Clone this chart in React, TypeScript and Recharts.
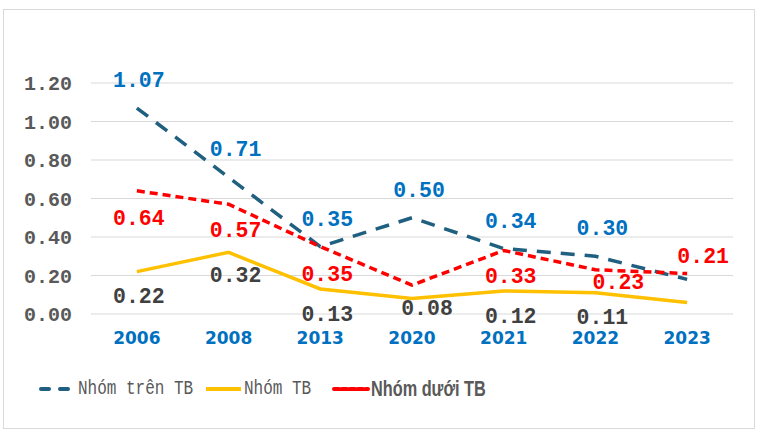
import React from 'react'
import { LineChart, Line, XAxis, YAxis, CartesianGrid, Legend, LabelList } from 'recharts'

const years = ['2006', '2008', '2013', '2020', '2021', '2022', '2023']
const aboveAvg = [1.07, 0.71, 0.35, 0.5, 0.34, 0.3, 0.18]
const average = [0.22, 0.32, 0.13, 0.08, 0.12, 0.11, 0.06]
const belowAvg = [0.64, 0.57, 0.35, 0.15, 0.33, 0.23, 0.21]
const yTicks = [0, 0.2, 0.4, 0.6, 0.8, 1.0, 1.2]

const data = years.map((year, i) => ({
  year,
  above: aboveAvg[i],
  avg: average[i],
  below: belowAvg[i],
}))

// label placement per series: [dx, dy] or null (hidden)
const aboveLabelPos: ([number, number] | null)[] = [[2, -27], [7, -27], [7, -27], [7, -27], [7, -27], [7, -27], null]
const avgLabelPos: ([number, number] | null)[] = [[2, 25], [7, 24], [7, 26], [15, 10], [7, 26], [7, 25], null]
const belowLabelPos: ([number, number] | null)[] = [[2, 28], [7, 27], [7, 28], null, [7, 27], [23, 13], [16, -17]]

const BLUE = '#1F5F80'
const YELLOW = '#FFC000'
const RED = '#FF0000'
const MONO = '"Liberation Mono", "Courier New", monospace'

function makeLabel(pos: ([number, number] | null)[], color: string) {
  return (props: any) => {
    const { x, y, value, index } = props
    const p = pos[index]
    if (!p) return null
    return (
      <text
        x={x + p[0]}
        y={y + p[1]}
        textAnchor="middle"
        dominantBaseline="central"
        fill={color}
        fontFamily={MONO}
        fontWeight="bold"
        fontSize={21.5}
      >
        {Number(value).toFixed(2)}
      </text>
    )
  }
}

function ChartLegend() {
  const text = {
    position: 'absolute' as const,
    top: 0,
    lineHeight: '50px',
    color: '#595959',
    whiteSpace: 'nowrap' as const,
    transformOrigin: 'left center',
  }
  return (
    <div style={{ position: 'relative', width: 762, height: 50 }}>
      <svg style={{ position: 'absolute', left: 0, top: 0 }} width={400} height={50}>
        <line x1={41} y1={25} x2={68} y2={25} stroke={BLUE} strokeWidth={4} strokeDasharray="8 11" strokeLinecap="round" />
        <line x1={206} y1={25} x2={241} y2={25} stroke={YELLOW} strokeWidth={4} />
        <line x1={334} y1={25} x2={368} y2={25} stroke={RED} strokeWidth={4} strokeDasharray="5 3" strokeLinecap="round" />
      </svg>
      <span style={{ ...text, left: 78, fontFamily: MONO, fontSize: 20, transform: 'scaleX(0.8)' }}>Nhóm trên TB</span>
      <span style={{ ...text, left: 244, fontFamily: MONO, fontSize: 20, transform: 'scaleX(0.8)' }}>Nhóm TB</span>
      <span
        style={{
          ...text,
          left: 371,
          fontFamily: '"Liberation Sans", Arial, sans-serif',
          fontWeight: 'bold',
          fontSize: 22,
          transform: 'scaleX(0.74)',
        }}
      >
        Nhóm dưới TB
      </span>
    </div>
  )
}

export default function App() {
  return (
    <div style={{ position: 'fixed', left: 0, top: 0, width: 762, height: 435, background: '#fff' }}>
      <div style={{ position: 'absolute', left: 3, top: 9, width: 750, height: 418, border: '1px solid #d9d9d9' }} />
      <LineChart width={762} height={435} data={data} margin={{ top: 83, right: 29, bottom: 21, left: 11 }}>
        <CartesianGrid stroke="#d9d9d9" vertical={false} />
        <XAxis
          dataKey="year"
          scale="band"
          axisLine={false}
          tickLine={false}
          height={50}
          tickMargin={12}
          tick={{ fill: '#0070C0', fontSize: 17, fontWeight: 'bold', fontFamily: '"DejaVu Sans", Verdana, sans-serif' }}
        />
        <YAxis
          width={80}
          domain={[0, 1.2]}
          ticks={yTicks}
          axisLine={false}
          tickLine={false}
          tickMargin={13}
          tickFormatter={(v: number) => v.toFixed(2)}
          tick={{ fill: '#595959', fontSize: 20, fontWeight: 'bold', fontFamily: MONO }}
        />
        <Legend verticalAlign="bottom" content={() => <ChartLegend />} wrapperStyle={{ left: 0, width: 762 }} />
        <Line
          dataKey="above"
          stroke={BLUE}
          strokeWidth={3.5}
          strokeDasharray="14 10"
          dot={false}
          isAnimationActive={false}
        >
          <LabelList dataKey="above" content={makeLabel(aboveLabelPos, '#0070C0')} />
        </Line>
        <Line dataKey="avg" stroke={YELLOW} strokeWidth={3.5} dot={false} isAnimationActive={false}>
          <LabelList dataKey="avg" content={makeLabel(avgLabelPos, '#404040')} />
        </Line>
        <Line
          dataKey="below"
          stroke={RED}
          strokeWidth={3.5}
          strokeDasharray="8 5"
          dot={false}
          isAnimationActive={false}
        >
          <LabelList dataKey="below" content={makeLabel(belowLabelPos, RED)} />
        </Line>
      </LineChart>
    </div>
  )
}
